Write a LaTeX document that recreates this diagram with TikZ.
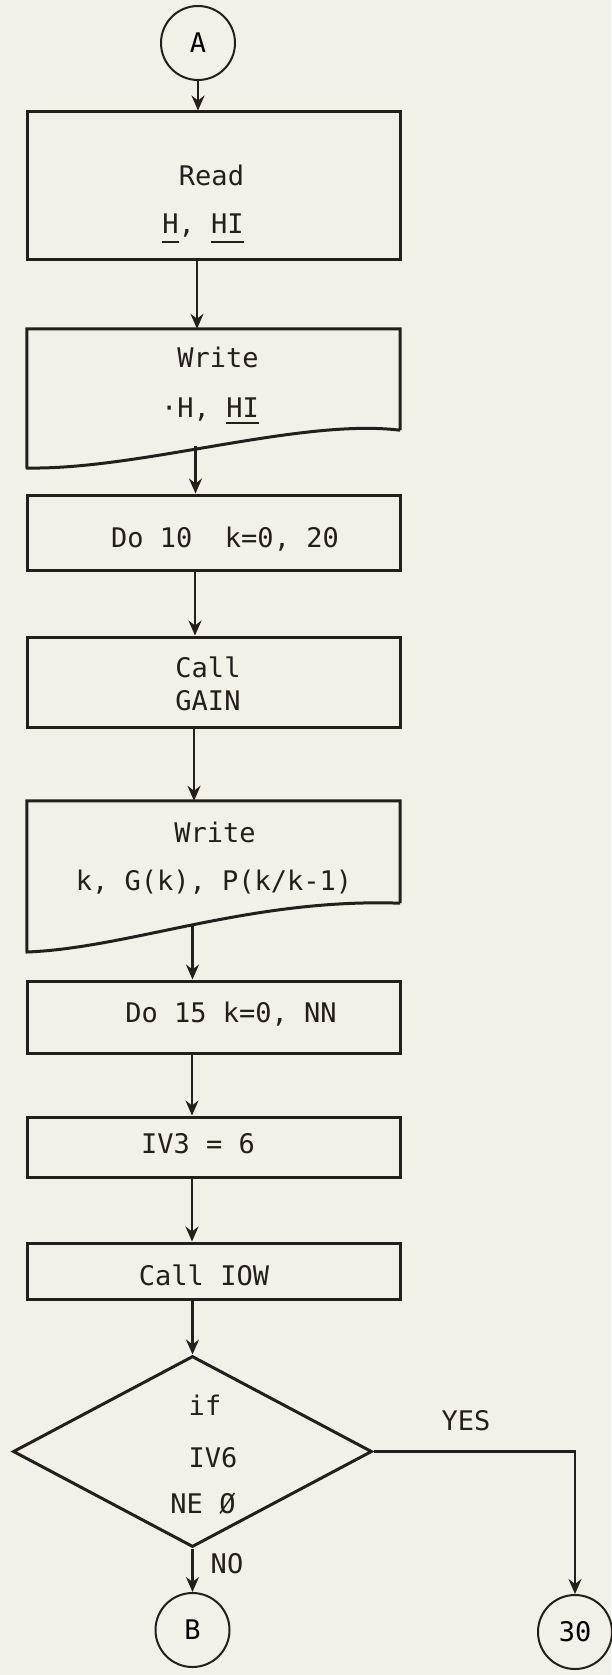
\documentclass[tikz,border=0pt]{standalone}
\usepackage{fontspec}
\newfontfamily\typewr{DejaVu Sans Mono}
\usetikzlibrary{arrows.meta,shapes.geometric}
\definecolor{paper}{RGB}{242,241,232}
\definecolor{ink}{RGB}{35,31,28}
% underlined word with a rule set a little below the baseline
\newsavebox\ulbox
\newcommand\ulin[2][-9pt]{\sbox\ulbox{#2}\rlap{\rule[#1]{\wd\ulbox}{2pt}}\usebox\ulbox}
\begin{document}
\begin{tikzpicture}[x=1pt,y=-1pt,
  boxline/.style={draw=ink, line width=3pt, line join=miter},
  procbox/.style={rectangle, boxline, inner sep=0pt, minimum width=373pt},
  frame/.style={rectangle, inner sep=0pt, minimum width=373pt},
  conn/.style={circle, draw=ink, line width=2pt, minimum size=74pt, inner sep=0pt,
    font=\typewr\fontsize{27}{30}\selectfont},
  txt/.style={inner sep=0pt, anchor=base, text=ink, font=\typewr\fontsize{27}{30}\selectfont},
  arr/.style={draw=ink, line width=2.6pt, -{Stealth[length=15pt,width=13pt,inset=5pt]}}
]
\fill[paper] (0,0) rectangle (611,1675);
\useasboundingbox (0,0) rectangle (611,1675);

% entry connector
\node[conn] (A) at (198,43) {A};

% Read H, HI
\node[procbox, minimum height=147pt] (read) at (213.5,185.5) {};
\node[txt] (readT) at (211.5,185) {Read};
\node[txt] (readV) at (203,233) {\ulin[-10pt]{H}, \ulin[-10pt]{HI}};

% Write H, HI (document symbol)
\node[frame, minimum height=101pt] (write1) at (213.5,379.5) {};
\draw[boxline] (write1.south east) -- (write1.north east) -- (write1.north west)
  -- (27,468) .. controls (140,470) and (300,418) .. (write1.south east);
\node[txt] (write1T) at (218,367) {Write};
\node[txt] (write1V) at (210,417) {·H, \ulin[-7pt]{HI}};
\coordinate (w1wave) at (195.5,445.5);

% Do 10 loop
\node[procbox, minimum height=75pt] (do10) at (213.5,532.5) {};
\node[txt] (do10T) at (225,547) {Do 10\ \ k=0, 20};

% Call GAIN
\node[procbox, minimum height=90pt] (gain) at (213.5,682) {};
\node[txt] (gainA) at (208,677) {Call};
\node[txt] (gainB) at (208,710) {GAIN};

% Write k, G(k), P(k/k-1) (document symbol)
\node[frame, minimum height=102pt] (write2) at (213.5,852) {};
\draw[boxline] (write2.south east) -- (write2.north east) -- (write2.north west)
  -- (27,952) .. controls (130,948) and (250,898) .. (write2.south east);
\node[txt] (write2T) at (215,842) {Write};
\node[txt] (write2V) at (214,890) {k, G(k), P(k/k-1)};
\coordinate (w2wave) at (192.5,925.5);

% Do 15 loop
\node[procbox, minimum height=72pt] (do15) at (213.5,1017) {};
\node[txt] (do15T) at (231,1022) {Do 15 k=0, NN};

% IV3 = 6
\node[procbox, minimum height=60pt] (iv3) at (213.5,1147) {};
\node[txt] (iv3T) at (198,1153) {IV3 = 6};

% Call IOW
\node[procbox, minimum height=56pt] (iow) at (213.5,1271) {};
\node[txt] (iowT) at (204,1285) {Call IOW};

% decision
\node[diamond, boxline, inner sep=0pt, minimum width=359pt, minimum height=191pt] (dec) at (192.5,1451.5) {};
\node[txt] (decA) at (205,1415) {if};
\node[txt] (decB) at (213,1467) {IV6};
\node[txt] (decC) at (203,1513) {NE Ø};

% exit connectors
\node[conn] (B) at (192.5,1630) {B};
\node[conn] (C30) at (575,1632) {30};

% flow lines
\draw[arr] (A.south) -- (A.south |- read.north);
\draw[arr] ([xshift=-16.5pt]read.south) -- ([xshift=-16.5pt]write1.north);
\draw[arr] (w1wave) -- (w1wave |- do10.north);
\draw[arr] ([xshift=-18.5pt]do10.south) -- ([xshift=-18.5pt]gain.north);
\draw[arr] ([xshift=-19.5pt]gain.south) -- ([xshift=-19.5pt]write2.north);
\draw[arr] (w2wave) -- (w2wave |- do15.north);
\draw[arr] ([xshift=-21.5pt]do15.south) -- ([xshift=-21.5pt]iv3.north);
\draw[arr] ([xshift=-21.5pt]iv3.south) -- ([xshift=-21.5pt]iow.north);
\draw[arr] (iow.south -| dec.north) -- (dec.north);
\draw[arr] (dec.south) -- (B.north);
\draw[arr] (dec.east) -| (C30.north);

% branch labels
\node[txt] (yes) at (466,1430) {YES};
\node[txt] (no) at (227,1573) {NO};
\end{tikzpicture}
\end{document}
